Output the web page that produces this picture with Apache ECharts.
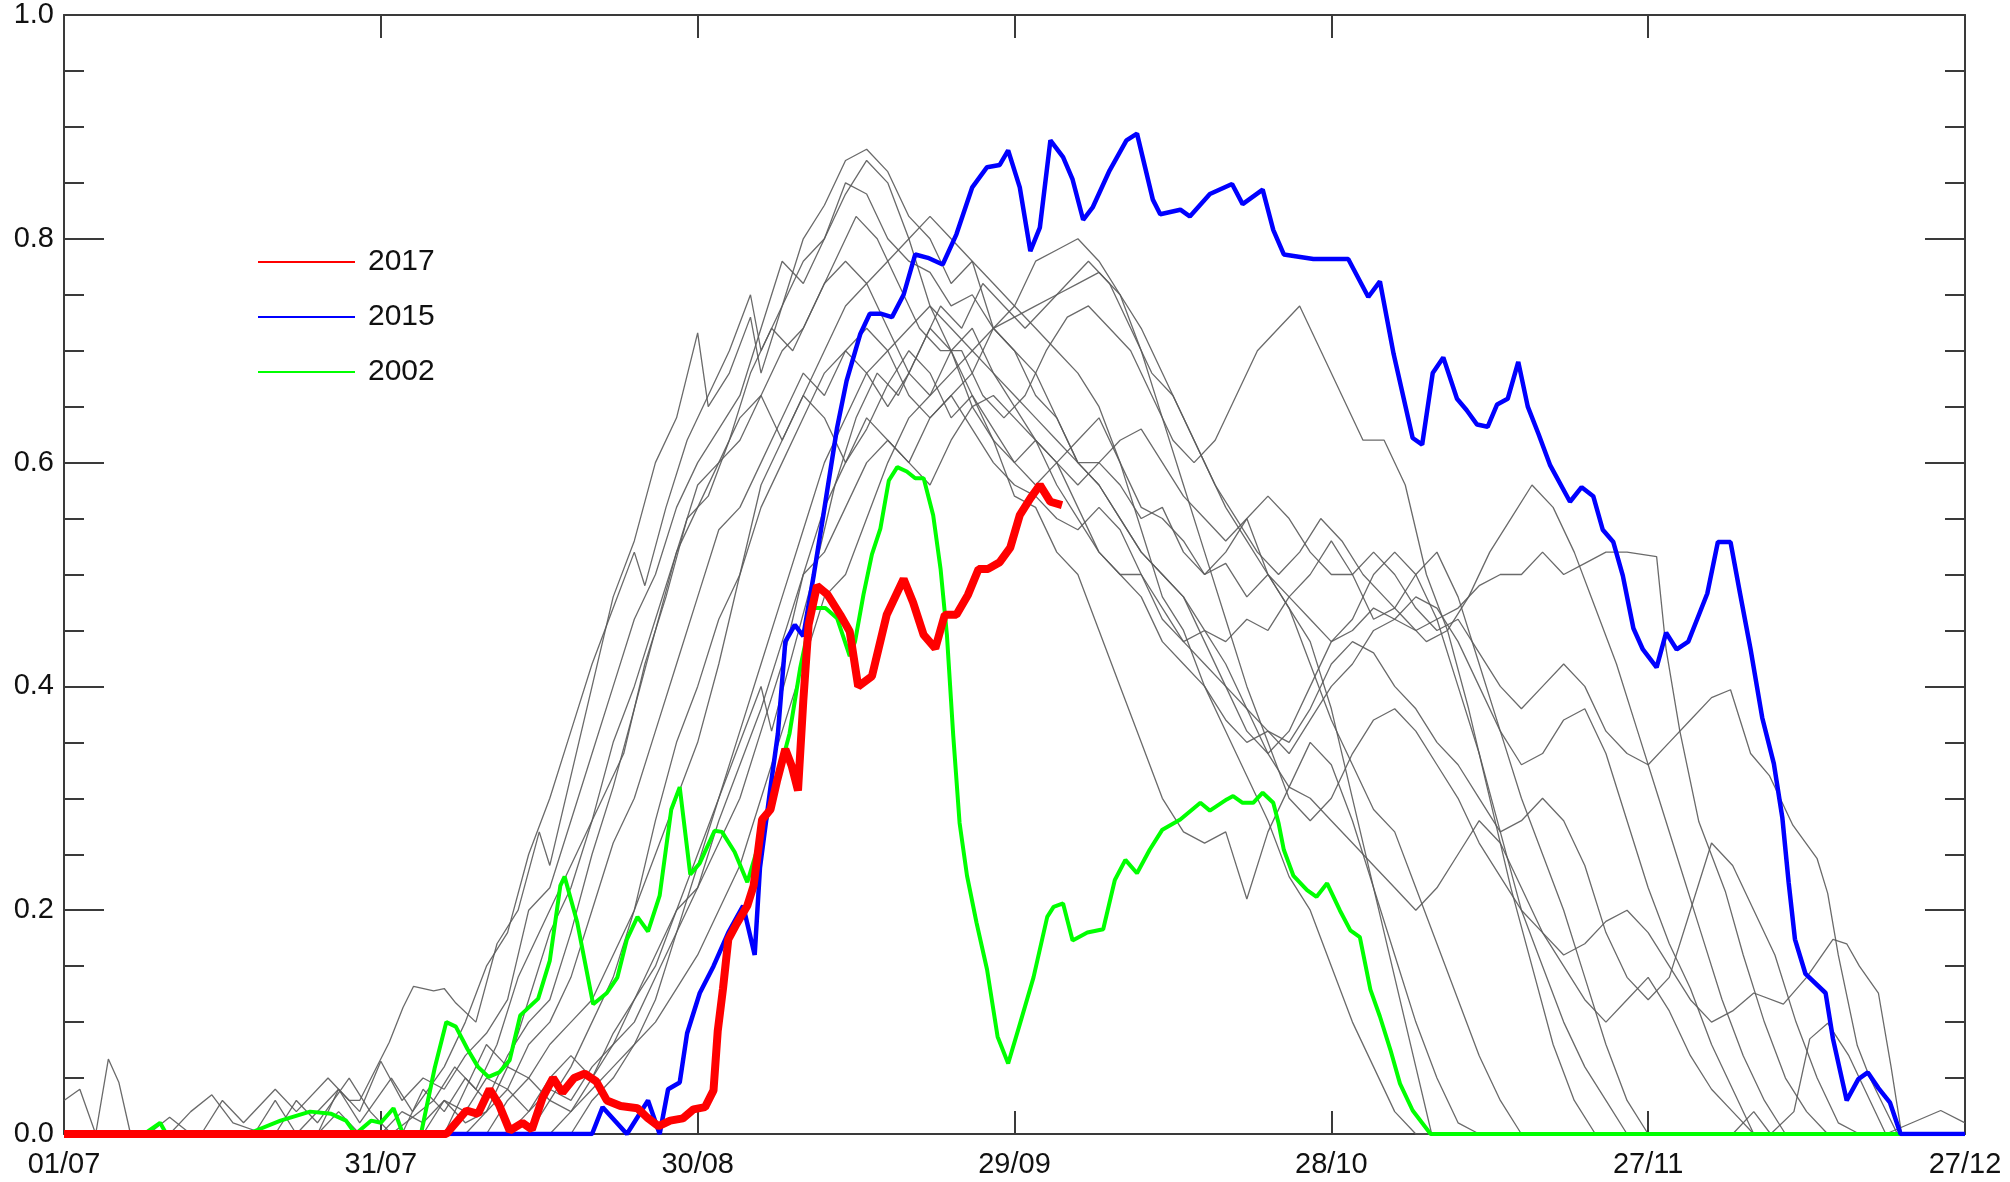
<!DOCTYPE html>
<html>
<head>
<meta charset="utf-8">
<script src="https://cdn.jsdelivr.net/npm/echarts@6/dist/echarts.min.js"></script>
<style>
html,body{margin:0;padding:0;background:#fff;}
#chart{width:2010px;height:1182px;}
</style>
</head>
<body>
<div id="chart"></div>
<script>
// x = days since 01/07
const tickLabels = ['01/07','31/07','30/08','29/09','28/10','27/11','27/12'];
const yTicks = [0, 0.2, 0.4, 0.6, 0.8, 1.0];

const red2017 = [[0,0],[36.2,0],[38.1,0.021],[39.2,0.018],[40.3,0.04],[41.2,0.026],[42.2,0.003],[43.4,0.01],[44.3,0.004],[45.3,0.032],[46.3,0.05],[47.2,0.037],[48.3,0.05],[49.3,0.054],[50.4,0.047],[51.4,0.03],[52.7,0.025],[54.3,0.023],[55.3,0.014],[56.3,0.007],[57.4,0.012],[58.6,0.014],[59.6,0.022],[60.7,0.024],[61.5,0.039],[61.9,0.092],[62.4,0.13],[62.9,0.174],[63.7,0.188],[64.7,0.204],[65.3,0.222],[66.1,0.281],[66.9,0.29],[67.5,0.315],[68.3,0.344],[68.9,0.329],[69.5,0.307],[70,0.387],[70.5,0.455],[71.3,0.49],[72.3,0.482],[73.5,0.464],[74.4,0.449],[75.2,0.4],[76.5,0.409],[77.9,0.464],[79.5,0.496],[80.4,0.475],[81.4,0.446],[82.5,0.434],[83.4,0.464],[84.5,0.464],[85.6,0.482],[86.6,0.505],[87.5,0.505],[88.6,0.511],[89.6,0.524],[90.5,0.553],[91.5,0.568],[92.4,0.58],[93.4,0.565],[94.5,0.562]];

const blue2015 = [[0,0],[50,0],[51,0.024],[53.3,0],[55.3,0.03],[56.4,0],[57.2,0.04],[58.3,0.046],[59,0.09],[60.2,0.126],[61.5,0.15],[62.9,0.18],[64.3,0.204],[65.4,0.16],[65.9,0.238],[66.9,0.31],[67.6,0.358],[68.3,0.44],[69.2,0.455],[70,0.445],[71,0.5],[71.9,0.553],[73.2,0.631],[74.1,0.673],[75.4,0.715],[76.3,0.733],[77.4,0.733],[78.4,0.73],[79.5,0.75],[80.6,0.786],[81.8,0.783],[83.2,0.777],[84.5,0.804],[86,0.846],[87.4,0.864],[88.6,0.866],[89.4,0.879],[90.5,0.846],[91.5,0.789],[92.4,0.81],[93.4,0.888],[94.6,0.873],[95.5,0.853],[96.5,0.817],[97.4,0.828],[99,0.861],[100.6,0.888],[101.6,0.894],[103.1,0.835],[103.8,0.822],[105.7,0.826],[106.6,0.82],[108.5,0.84],[110.6,0.849],[111.6,0.831],[113.5,0.844],[114.5,0.808],[115.5,0.786],[118.3,0.782],[121.6,0.782],[123.5,0.748],[124.6,0.762],[125.9,0.697],[127.7,0.622],[128.6,0.616],[129.6,0.68],[130.6,0.694],[131.9,0.657],[132.8,0.647],[133.8,0.634],[134.8,0.632],[135.7,0.652],[136.7,0.657],[137.7,0.69],[138.6,0.65],[139.6,0.626],[140.7,0.598],[142.6,0.565],[143.7,0.578],[144.8,0.57],[145.7,0.54],[146.7,0.529],[147.6,0.499],[148.6,0.452],[149.5,0.433],[150.8,0.417],[151.7,0.448],[152.7,0.433],[153.8,0.44],[155.6,0.483],[156.6,0.529],[157.8,0.529],[158.7,0.483],[159.7,0.433],[160.8,0.372],[161.9,0.331],[162.7,0.283],[163.3,0.225],[163.9,0.174],[164.9,0.143],[166.8,0.126],[167.5,0.085],[168.8,0.03],[169.9,0.049],[170.8,0.055],[171.8,0.041],[172.9,0.028],[173.9,0],[180,0]];

const green2002 = [[0,0],[7.6,0],[9.1,0.01],[9.7,0],[17.9,0.002],[20.5,0.012],[23.3,0.02],[25.3,0.018],[26.7,0.012],[27.6,0],[29.1,0.012],[30,0.01],[31.2,0.023],[32.1,0],[33.8,0],[35.1,0.059],[36.2,0.1],[37.1,0.096],[38.2,0.076],[39.2,0.06],[40.2,0.051],[41.2,0.055],[42.2,0.066],[43.2,0.106],[44.9,0.121],[46,0.155],[47,0.222],[47.4,0.23],[48.6,0.189],[50.1,0.116],[51.4,0.126],[52.4,0.14],[53.3,0.174],[54.3,0.194],[55.3,0.181],[56.4,0.213],[57.5,0.29],[58.3,0.31],[59.3,0.232],[60.2,0.242],[61.6,0.271],[62.3,0.27],[63.5,0.252],[64.7,0.225],[67.1,0.30],[68.7,0.358],[69.7,0.416],[70.9,0.47],[72.1,0.47],[73.2,0.461],[74.4,0.427],[74.9,0.44],[75.7,0.482],[76.5,0.518],[77.3,0.541],[78.1,0.584],[78.9,0.596],[79.8,0.592],[80.6,0.586],[81.4,0.586],[82.3,0.553],[83,0.505],[83.6,0.446],[84.2,0.356],[84.8,0.278],[85.5,0.231],[86.4,0.189],[87.4,0.147],[88.4,0.087],[89.4,0.063],[90.5,0.098],[91.8,0.14],[93.1,0.194],[93.7,0.203],[94.6,0.206],[95.5,0.173],[96.9,0.18],[98.4,0.183],[99.5,0.227],[100.5,0.245],[101.6,0.233],[102.8,0.254],[104,0.272],[105.7,0.281],[107.6,0.296],[108.5,0.289],[110.1,0.299],[110.7,0.302],[111.6,0.296],[112.6,0.296],[113.5,0.305],[114.5,0.296],[115,0.278],[115.5,0.254],[116.4,0.231],[117.7,0.218],[118.6,0.212],[119.6,0.224],[120.8,0.2],[121.8,0.182],[122.7,0.176],[123.7,0.129],[124.6,0.105],[125.6,0.075],[126.5,0.045],[127.7,0.021],[129.4,0],[180,0]];

const grayA = [[0,0.03],[1.5,0.04],[3,0],[4.2,0.067],[5.2,0.046],[6.3,0],[13,0],[15,0.03],[17,0.01],[20,0.04],[22,0.02],[25,0.05],[27,0.03],[28,0.03],[30.8,0.082],[32.1,0.113],[33.1,0.132],[35,0.128],[36,0.13],[37.1,0.117],[39,0.1],[41,0.17],[43,0.2],[45,0.27],[46,0.24],[48,0.32],[50,0.4],[52,0.48],[54,0.53],[56,0.6],[58,0.64],[60,0.716],[61,0.65],[63,0.68],[65,0.73],[66,0.68],[68,0.74],[70,0.78],[72,0.8],[74,0.84],[76,0.87],[78,0.85],[80,0.8],[82,0.74],[84,0.7],[86,0.65],[88,0.62],[90,0.57],[92,0.56],[94,0.52],[96,0.5],[98,0.45],[100,0.4],[102,0.35],[104,0.3],[106,0.27],[108,0.26],[110,0.27],[112,0.21],[114,0.27],[116,0.31],[118,0.35],[120,0.33],[122,0.28],[124,0.22],[126,0.16],[128,0.1],[130,0.05],[132,0.01],[134,0],[180,0]];
const grayB = [[0,0],[8,0],[10,0.015],[12,0],[18,0],[20,0.03],[22,0],[26,0.04],[28,0.01],[31,0.05],[33,0.02],[36,0.06],[38,0.1],[40,0.15],[42,0.18],[44,0.25],[46,0.3],[48,0.36],[50,0.42],[52,0.47],[54,0.52],[55,0.49],[57,0.56],[59,0.62],[61,0.66],[63,0.7],[65,0.75],[66,0.7],[68,0.74],[70,0.8],[72,0.83],[74,0.87],[76,0.88],[78,0.86],[80,0.82],[82,0.8],[84,0.76],[86,0.78],[88,0.72],[90,0.7],[92,0.66],[94,0.64],[96,0.6],[98,0.6],[100,0.58],[102,0.55],[104,0.56],[106,0.52],[108,0.5],[110,0.51],[112,0.48],[114,0.5],[116,0.47],[118,0.44],[120,0.38],[122,0.3],[124,0.22],[126,0.14],[128,0.06],[129.5,0],[180,0]];
const grayC = [[0,0],[10,0],[12,0.02],[14,0.035],[16,0.01],[19,0],[24,0],[26,0.04],[28,0.02],[30,0.065],[32,0.03],[34,0.05],[36,0.04],[38,0.07],[40,0.09],[42,0.12],[44,0.2],[46,0.22],[48,0.28],[50,0.34],[52,0.4],[54,0.46],[56,0.5],[58,0.56],[60,0.6],[62,0.63],[64,0.66],[66,0.72],[68,0.78],[70,0.76],[72,0.8],[74,0.85],[76,0.84],[78,0.8],[80,0.78],[82,0.77],[84,0.74],[86,0.75],[88,0.72],[90,0.74],[92,0.78],[94,0.79],[96,0.8],[98,0.78],[100,0.75],[102,0.72],[104,0.68],[106,0.64],[108,0.6],[110,0.56],[112,0.53],[114,0.5],[116,0.47],[118,0.42],[120,0.37],[122,0.33],[124,0.29],[126,0.27],[128,0.22],[130,0.17],[132,0.12],[134,0.07],[136,0.03],[138,0],[180,0]];
const grayD = [[0,0],[20,0],[22,0.03],[24,0.01],[27,0.05],[29,0.02],[31,0],[35,0.03],[37,0.06],[39,0.04],[41,0.08],[43,0.14],[45,0.18],[47,0.22],[49,0.26],[51,0.3],[53,0.34],[55,0.42],[57,0.48],[59,0.55],[61,0.57],[63,0.62],[65,0.68],[67,0.72],[69,0.7],[71,0.74],[73,0.78],[75,0.82],[77,0.8],[79,0.76],[81,0.72],[83,0.7],[85,0.7],[87,0.66],[89,0.64],[91,0.66],[93,0.7],[95,0.73],[97,0.74],[99,0.72],[101,0.7],[103,0.66],[105,0.62],[107,0.6],[109,0.62],[111,0.66],[113,0.7],[115,0.72],[117,0.74],[119,0.7],[121,0.66],[123,0.62],[125,0.62],[127,0.58],[129,0.5],[131,0.45],[133,0.38],[135,0.3],[137,0.22],[139,0.15],[141,0.08],[143,0.03],[145,0],[180,0]];
const grayE = [[0,0],[24,0],[26,0.02],[28,0],[32,0],[34,0.04],[36,0.02],[38,0.05],[40,0.03],[42,0.07],[44,0.1],[46,0.12],[48,0.18],[50,0.25],[52,0.31],[54,0.38],[56,0.45],[58,0.52],[60,0.58],[62,0.6],[64,0.64],[66,0.66],[68,0.62],[70,0.66],[72,0.7],[74,0.74],[76,0.76],[78,0.72],[80,0.68],[82,0.66],[84,0.7],[86,0.72],[88,0.68],[90,0.65],[92,0.62],[94,0.6],[96,0.62],[98,0.64],[100,0.6],[102,0.56],[104,0.55],[106,0.53],[108,0.5],[110,0.52],[112,0.55],[114,0.5],[116,0.48],[118,0.5],[120,0.53],[122,0.5],[124,0.46],[126,0.47],[128,0.5],[130,0.52],[132,0.48],[134,0.42],[136,0.36],[138,0.3],[140,0.25],[142,0.2],[144,0.14],[146,0.08],[148,0.03],[150,0],[180,0]];
const grayF = [[0,0],[30,0],[32,0.02],[34,0.01],[36,0.03],[38,0.02],[40,0.05],[42,0.04],[44,0.08],[46,0.1],[48,0.14],[50,0.2],[52,0.26],[54,0.3],[56,0.36],[58,0.42],[60,0.48],[62,0.54],[64,0.56],[66,0.6],[68,0.64],[70,0.68],[72,0.66],[74,0.7],[76,0.72],[78,0.7],[80,0.66],[82,0.64],[84,0.66],[86,0.68],[88,0.72],[90,0.7],[92,0.68],[94,0.64],[96,0.6],[98,0.58],[100,0.55],[102,0.52],[104,0.5],[106,0.48],[108,0.45],[110,0.44],[112,0.46],[114,0.45],[116,0.48],[118,0.46],[120,0.44],[122,0.45],[124,0.47],[126,0.46],[128,0.45],[130,0.46],[132,0.47],[134,0.49],[136,0.5],[138,0.5],[140,0.52],[142,0.5],[144,0.51],[146,0.52],[148,0.52],[150.8,0.516],[151.7,0.433],[153,0.36],[154.8,0.279],[157.3,0.217],[159,0.16],[161,0.1],[163,0.05],[165,0.02],[167,0],[180,0]];
const grayG = [[0,0],[34,0],[36,0.03],[38,0.01],[40,0.02],[42,0.06],[44,0.05],[46,0.08],[48,0.1],[50,0.12],[52,0.16],[54,0.2],[56,0.25],[58,0.3],[60,0.35],[62,0.42],[64,0.5],[66,0.58],[68,0.62],[70,0.66],[72,0.64],[74,0.6],[76,0.63],[78,0.67],[80,0.7],[82,0.68],[84,0.64],[86,0.66],[88,0.62],[90,0.6],[92,0.58],[94,0.6],[96,0.56],[98,0.52],[100,0.5],[102,0.48],[104,0.44],[106,0.42],[108,0.4],[110,0.37],[112,0.35],[114,0.36],[116,0.34],[118,0.37],[120,0.4],[122,0.42],[124,0.45],[126,0.46],[128,0.48],[130,0.47],[132,0.44],[134,0.4],[136,0.36],[138,0.33],[140,0.34],[142,0.37],[144,0.38],[146,0.34],[148,0.28],[150,0.22],[152,0.17],[154,0.13],[156,0.08],[158,0.04],[160,0],[180,0]];
const grayH = [[0,0],[38,0],[40,0.02],[42,0.04],[44,0.02],[46,0.05],[48,0.07],[50,0.05],[52,0.09],[54,0.12],[56,0.15],[58,0.2],[60,0.25],[62,0.3],[64,0.35],[66,0.4],[67,0.36],[69,0.43],[71,0.5],[73,0.58],[75,0.64],[77,0.68],[79,0.66],[81,0.7],[83,0.74],[85,0.72],[87,0.76],[89,0.74],[91,0.72],[93,0.74],[95,0.76],[97,0.78],[99,0.76],[101,0.72],[103,0.68],[105,0.66],[107,0.62],[109,0.58],[111,0.55],[113,0.52],[115,0.5],[117,0.52],[119,0.55],[121,0.53],[123,0.5],[125,0.48],[127,0.46],[129,0.44],[131,0.45],[133,0.48],[135,0.52],[137,0.55],[139,0.58],[141,0.56],[143,0.52],[145,0.47],[147,0.42],[149,0.36],[151,0.3],[153,0.24],[155,0.18],[157,0.12],[159,0.07],[161,0.03],[163,0],[180,0]];
const grayI = [[0,0],[40,0],[42,0.03],[44,0.05],[46,0.03],[48,0.06],[50,0.1],[52,0.14],[54,0.2],[56,0.28],[58,0.35],[60,0.4],[62,0.46],[64,0.5],[66,0.56],[68,0.6],[70,0.64],[72,0.68],[74,0.7],[76,0.68],[78,0.65],[80,0.68],[82,0.72],[84,0.7],[86,0.66],[88,0.63],[90,0.6],[92,0.62],[94,0.58],[96,0.55],[98,0.52],[100,0.5],[102,0.5],[104,0.47],[106,0.44],[108,0.42],[110,0.4],[112,0.38],[114,0.36],[116,0.35],[118,0.38],[120,0.42],[122,0.44],[124,0.43],[126,0.4],[128,0.38],[130,0.35],[132,0.33],[134,0.3],[136,0.27],[138,0.28],[140,0.3],[142,0.28],[144,0.24],[146,0.18],[148,0.14],[150,0.12],[152,0.14],[154,0.2],[156,0.26],[158,0.24],[160,0.2],[162,0.16],[164,0.1],[166,0.05],[168,0.01],[170,0],[180,0]];
const grayJ = [[0,0],[42,0],[44,0.02],[46,0.04],[48,0.03],[50,0.06],[52,0.08],[54,0.12],[56,0.16],[58,0.2],[60,0.22],[62,0.26],[64,0.3],[66,0.36],[68,0.42],[70,0.5],[72,0.56],[74,0.6],[76,0.64],[78,0.62],[80,0.6],[82,0.64],[84,0.66],[86,0.63],[88,0.6],[90,0.58],[92,0.57],[94,0.55],[96,0.54],[98,0.56],[100,0.54],[102,0.5],[104,0.46],[106,0.44],[108,0.45],[110,0.42],[112,0.38],[114,0.34],[116,0.31],[118,0.3],[120,0.28],[122,0.26],[124,0.24],[126,0.22],[128,0.2],[130,0.22],[132,0.25],[134,0.28],[136,0.26],[138,0.22],[140,0.18],[142,0.15],[144,0.12],[146,0.1],[148,0.12],[150,0.14],[152,0.11],[154,0.07],[156,0.04],[158,0.02],[160,0],[180,0]];
const grayK = [[0,0],[44,0],[46,0.03],[48,0.02],[50,0.05],[52,0.08],[54,0.1],[56,0.14],[58,0.18],[60,0.22],[62,0.28],[64,0.33],[66,0.38],[68,0.44],[70,0.5],[72,0.52],[74,0.56],[76,0.6],[78,0.62],[80,0.6],[82,0.58],[84,0.62],[86,0.65],[88,0.66],[90,0.64],[92,0.62],[94,0.6],[96,0.58],[98,0.6],[100,0.62],[102,0.63],[104,0.6],[106,0.57],[108,0.55],[110,0.53],[112,0.55],[114,0.57],[116,0.55],[118,0.52],[120,0.5],[122,0.5],[124,0.52],[126,0.5],[128,0.47],[130,0.45],[132,0.46],[134,0.43],[136,0.4],[138,0.38],[140,0.4],[142,0.42],[144,0.4],[146,0.36],[148,0.34],[150,0.33],[152,0.35],[154,0.37],[156,0.39],[157.8,0.397],[159.7,0.34],[161.5,0.32],[163.7,0.276],[166,0.246],[167,0.215],[168,0.16],[169.8,0.079],[171,0.05],[173.6,0],[180,0]];
const grayL = [[0,0],[46,0],[48,0.02],[50,0.04],[52,0.06],[54,0.08],[56,0.1],[58,0.13],[60,0.16],[62,0.2],[64,0.24],[66,0.3],[68,0.36],[70,0.42],[72,0.48],[74,0.5],[76,0.55],[78,0.6],[80,0.64],[82,0.66],[84,0.68],[86,0.7],[88,0.72],[90,0.73],[92,0.74],[94,0.75],[96,0.76],[98,0.77],[100,0.75],[102,0.7],[104,0.64],[106,0.58],[108,0.52],[110,0.46],[112,0.4],[114,0.35],[116,0.3],[118,0.28],[120,0.3],[122,0.34],[124,0.37],[126,0.38],[128,0.36],[130,0.33],[132,0.3],[134,0.26],[136,0.23],[138,0.2],[140,0.18],[142,0.16],[144,0.17],[146,0.19],[148,0.2],[150,0.18],[152,0.15],[154,0.12],[156,0.1],[158,0.11],[160,0.126],[162.8,0.116],[165,0.14],[167.5,0.174],[168.8,0.17],[170,0.15],[171.8,0.126],[173,0.06],[174,0],[180,0]];
const grayM = [[0,0],[36,0],[38,0.04],[40,0.08],[42,0.06],[44,0.12],[46,0.18],[48,0.22],[50,0.28],[52,0.35],[54,0.4],[56,0.46],[58,0.52],[60,0.56],[62,0.6],[64,0.62],[66,0.66],[68,0.7],[70,0.72],[72,0.76],[74,0.78],[76,0.76],[78,0.78],[80,0.8],[82,0.82],[84,0.8],[86,0.78],[88,0.76],[90,0.74],[92,0.72],[94,0.7],[96,0.68],[98,0.65],[100,0.6],[102,0.54],[104,0.48],[106,0.45],[108,0.4],[110,0.36],[112,0.32],[114,0.28],[116,0.23],[118,0.2],[120,0.15],[122,0.1],[124,0.06],[126,0.02],[128,0],[180,0]];
const grayN = [[0,0],[48,0],[50,0.03],[52,0.05],[54,0.08],[56,0.12],[58,0.18],[60,0.24],[62,0.3],[64,0.36],[66,0.42],[68,0.48],[70,0.54],[72,0.6],[74,0.64],[76,0.68],[78,0.7],[80,0.72],[82,0.74],[84,0.72],[86,0.7],[88,0.68],[90,0.66],[92,0.64],[94,0.62],[96,0.6],[98,0.58],[100,0.55],[102,0.52],[104,0.5],[106,0.48],[108,0.44],[110,0.4],[112,0.36],[114,0.34],[116,0.36],[118,0.4],[120,0.44],[122,0.46],[124,0.5],[126,0.52],[128,0.5],[130,0.46],[132,0.4],[134,0.34],[136,0.27],[138,0.2],[140,0.15],[142,0.1],[144,0.06],[146,0.03],[148,0],[158,0],[160,0.02],[161.6,0],[163.8,0.02],[165.3,0.085],[167,0.099],[169,0.07],[171,0.03],[172.5,0],[177.7,0.021],[180,0.01]];

const grayLines = [grayA, grayB, grayC, grayD, grayE, grayF, grayG, grayH, grayI, grayJ, grayK, grayL, grayM, grayN];

const chart = echarts.init(document.getElementById('chart'), null, {renderer: 'canvas'});
const axisColor = '#3a3a3a';
const series = [];
grayLines.forEach(function (d, i) {
  series.push({
    name: 'gray' + i, type: 'line', data: d, symbol: 'none', silent: true,
    lineStyle: {color: '#5a5a5a', width: 1.3, opacity: 0.9}, z: 2
  });
});
series.push({name: '2002', type: 'line', data: green2002, symbol: 'none', lineStyle: {color: '#00ff00', width: 4}, itemStyle: {color: '#00ff00'}, z: 3});
series.push({name: '2015', type: 'line', data: blue2015, symbol: 'none', lineStyle: {color: '#0000ff', width: 4.5}, itemStyle: {color: '#0000ff'}, z: 4});
series.push({name: '2017', type: 'line', data: red2017, symbol: 'none', lineStyle: {color: '#ff0000', width: 8}, itemStyle: {color: '#ff0000'}, z: 5});

const xCommon = {
  type: 'value', min: 0, max: 180, interval: 30,
  axisLine: {show: true, onZero: false, lineStyle: {color: axisColor, width: 2}},
  splitLine: {show: false}
};
const yCommon = {
  type: 'value', min: 0, max: 1, interval: 0.2,
  axisLine: {show: true, onZero: false, lineStyle: {color: axisColor, width: 2}},
  splitLine: {show: false},
  axisTick: {show: true, inside: true, length: 40, lineStyle: {color: axisColor, width: 2}},
  minorTick: {show: true, splitNumber: 4, length: 20, lineStyle: {color: axisColor, width: 2}},
  minorSplitLine: {show: false}
};

chart.setOption({
  animation: false,
  backgroundColor: '#ffffff',
  grid: {left: 64, right: 45, top: 15, bottom: 48, containLabel: false},
  legend: {
    data: ['2017', '2015', '2002'],
    orient: 'vertical', left: 253, top: 242,
    itemWidth: 97, itemHeight: 2, itemGap: 25,
    icon: 'rect',
    itemStyle: {borderWidth: 0},
    textStyle: {fontFamily: 'Liberation Sans', fontSize: 30, color: '#111', lineHeight: 29, padding: [0, 0, 0, 8]},
    selectedMode: false
  },
  xAxis: [
    Object.assign({}, xCommon, {
      position: 'bottom',
      axisTick: {show: true, inside: true, length: 23, lineStyle: {color: axisColor, width: 2}},
      axisLabel: {show: true, margin: 16, fontFamily: 'Liberation Sans', fontSize: 29, color: '#111',
        formatter: function (v) { return tickLabels[Math.round(v / 30)]; }}
    }),
    Object.assign({}, xCommon, {
      position: 'top',
      axisTick: {show: true, inside: true, length: 23, lineStyle: {color: axisColor, width: 2}},
      axisLabel: {show: false}
    })
  ],
  yAxis: [
    Object.assign({}, yCommon, {
      position: 'left',
      axisLabel: {show: true, margin: 10, fontFamily: 'Liberation Sans', fontSize: 29, color: '#111',
        formatter: function (v) { return yTicks.indexOf(Math.round(v * 10) / 10) >= 0 ? v.toFixed(1) : ''; }}
    }),
    Object.assign({}, yCommon, {position: 'right', axisLabel: {show: false}})
  ],
  series: series
});
</script>
</body>
</html>
